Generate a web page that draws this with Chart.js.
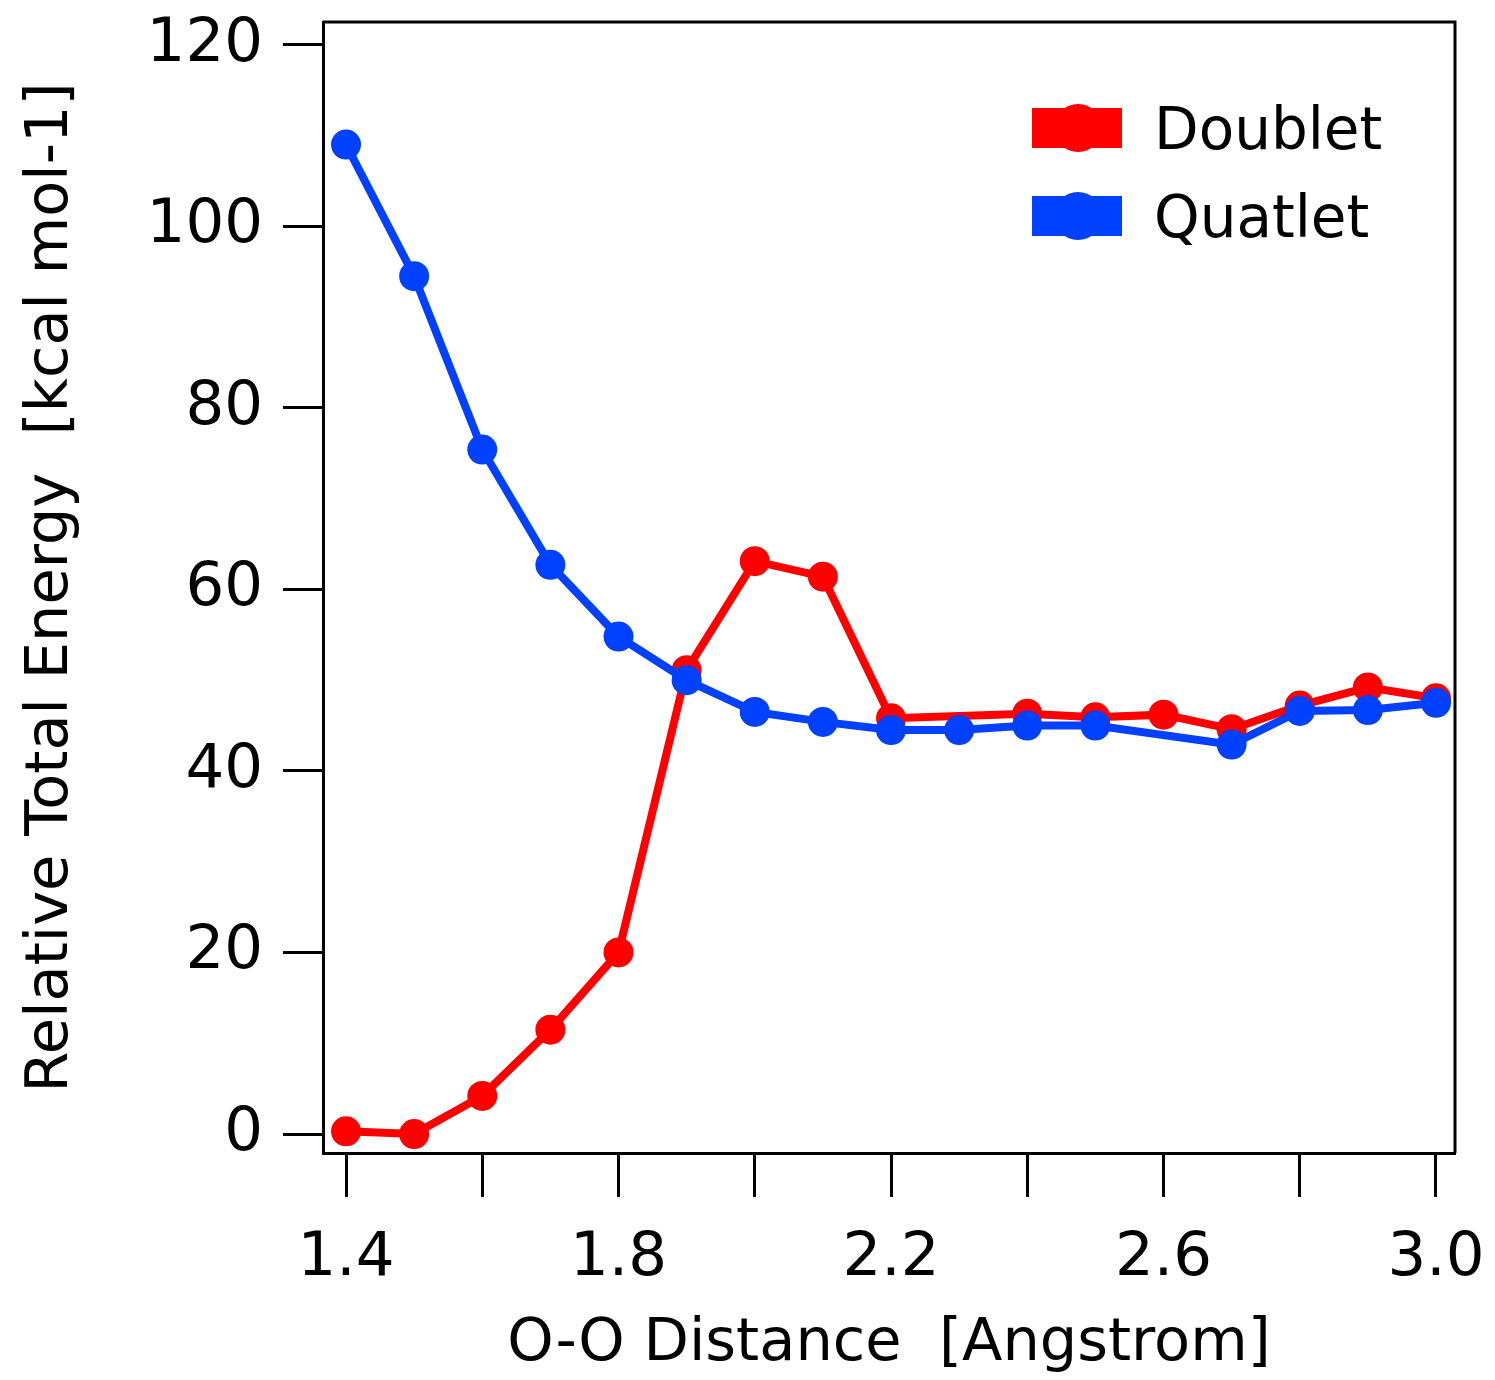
<!DOCTYPE html>
<html>
<head>
<meta charset="utf-8">
<title>O-O Distance vs Relative Total Energy</title>
<script src="https://cdn.jsdelivr.net/npm/chart.js@4.4.1/dist/chart.umd.min.js"></script>
<style>
    body { margin: 0; background: #fff; }
    #chart-container { width: 1495px; height: 1380px; }
</style>
</head>
<body>
<div id="chart-container">
    <canvas id="energy-chart" width="1495" height="1380"></canvas>
</div>
<script>
// O-O distance (Angstrom)
const distances = [1.4, 1.5, 1.6, 1.7, 1.8, 1.9, 2.0, 2.1, 2.2, 2.3, 2.4, 2.5, 2.6, 2.7, 2.8, 2.9, 3.0];
// relative total energy (kcal/mol), null = no point at that distance
const doublet = [0.3, 0.0, 4.2, 11.5, 20.0, 51.1, 63.1, 61.4, 45.8, null, 46.3, 45.9, 46.2, 44.6, 47.2, 49.2, 48.0];
const quatlet = [109.0, 94.5, 75.4, 62.7, 54.8, 50.0, 46.5, 45.4, 44.5, 44.5, 45.0, 45.0, null, 42.9, 46.6, 46.7, 47.5];

const xTickValues = [1.4, 1.6, 1.8, 2.0, 2.2, 2.4, 2.6, 2.8, 3.0];
const xTickLabels = ["1.4", "", "1.8", "", "2.2", "", "2.6", "", "3.0"];
const yTickValues = [0, 20, 40, 60, 80, 100, 120];

const seriesNames = ["Doublet", "Quatlet"];
const seriesColors = ["#ff0000", "#0040ff"];

const FONT = "'DejaVu Sans', sans-serif";

function toPoints(ys) {
    return distances.map((x, i) => ({ x: x, y: ys[i] }));
}

// box lines on top and right + legend with bar and dot
const framePlugin = {
    id: "frame",
    afterDraw(chart) {
        const ctx = chart.ctx;
        const a = chart.chartArea;
        ctx.save();
        ctx.strokeStyle = "#000";
        ctx.lineWidth = 3;
        ctx.beginPath();
        ctx.moveTo(a.left, a.top);
        ctx.lineTo(a.right, a.top);
        ctx.lineTo(a.right, a.bottom);
        ctx.stroke();

        const rows = [128, 216];
        seriesNames.forEach((name, i) => {
            const cy = rows[i];
            ctx.fillStyle = seriesColors[i];
            ctx.fillRect(1032, cy - 20, 90, 40);
            ctx.beginPath();
            ctx.arc(1078, cy, 24, 0, Math.PI * 2);
            ctx.fill();
            ctx.fillStyle = "#000";
            ctx.font = "58px " + FONT;
            ctx.textBaseline = "middle";
            ctx.textAlign = "left";
            ctx.fillText(name, 1154, cy + 6);
        });
        ctx.restore();
    }
};

// keep tick labels from pushing the plot area inward
function noLabelPadding(scale) {
    scale.paddingTop = 0;
    scale.paddingBottom = 0;
    scale.paddingLeft = 0;
    scale.paddingRight = 0;
}

const axisStyle = {
    grid: {
        drawOnChartArea: false,
        drawTicks: true,
        tickLength: 40,
        tickWidth: 3,
        tickColor: "#000"
    },
    border: { display: true, color: "#000", width: 3 }
};

const config = {
    type: "line",
    data: {
        datasets: [
            {
                label: seriesNames[0],
                data: toPoints(doublet),
                borderColor: seriesColors[0],
                backgroundColor: seriesColors[0],
                pointBackgroundColor: seriesColors[0],
                borderWidth: 8,
                pointRadius: 15,
                pointBorderWidth: 0,
                spanGaps: true,
                order: 2
            },
            {
                label: seriesNames[1],
                data: toPoints(quatlet),
                borderColor: seriesColors[1],
                backgroundColor: seriesColors[1],
                pointBackgroundColor: seriesColors[1],
                borderWidth: 8,
                pointRadius: 15,
                pointBorderWidth: 0,
                spanGaps: true,
                order: 1
            }
        ]
    },
    options: {
        responsive: false,
        animation: false,
        layout: { padding: { top: 22, right: 40, left: 0, bottom: 0 } },
        plugins: {
            legend: { display: false },
            tooltip: { enabled: false }
        },
        scales: {
            x: {
                type: "linear",
                min: 1.3662,
                max: 3.0279,
                ...axisStyle,
                grid: { ...axisStyle.grid, tickLength: 44 },
                afterBuildTicks: scale => {
                    scale.ticks = xTickValues.map(v => ({ value: v }));
                },
                afterFit: scale => {
                    scale.height = 227;
                    noLabelPadding(scale);
                },
                ticks: {
                    color: "#000",
                    padding: 26,
                    maxRotation: 0,
                    autoSkip: false,
                    font: { family: FONT, size: 61 },
                    callback: (value, index) => xTickLabels[index]
                },
                title: {
                    display: true,
                    text: "O-O Distance  [Angstrom]",
                    color: "#000",
                    font: { family: FONT, size: 59 },
                    padding: { top: 0, bottom: 0 }
                }
            },
            y: {
                type: "linear",
                min: -2.09,
                max: 122.5,
                ...axisStyle,
                afterBuildTicks: scale => {
                    scale.ticks = yTickValues.map(v => ({ value: v }));
                },
                afterFit: scale => {
                    scale.width = 323;
                    noLabelPadding(scale);
                },
                ticks: {
                    color: "#000",
                    padding: 20,
                    autoSkip: false,
                    font: { family: FONT, size: 61 }
                },
                title: {
                    display: true,
                    text: "Relative Total Energy  [kcal mol-1]",
                    color: "#000",
                    font: { family: FONT, size: 59 },
                    padding: { top: 16, bottom: 0 }
                }
            }
        }
    },
    plugins: [framePlugin]
};

const chart = new Chart(document.getElementById("energy-chart"), config);
</script>
</body>
</html>
